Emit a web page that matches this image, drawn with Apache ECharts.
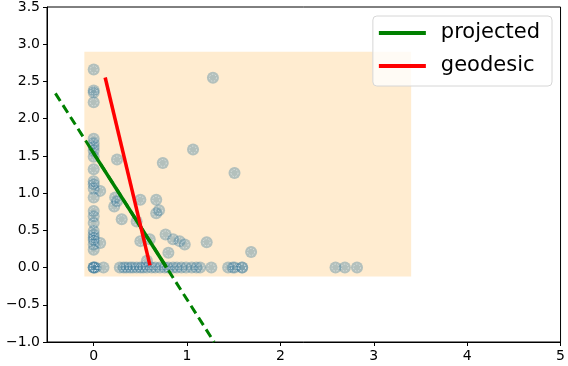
<!DOCTYPE html>
<html>
<head>
<meta charset="utf-8">
<script src="https://cdn.jsdelivr.net/npm/echarts@6/dist/echarts.min.js"></script>
<style>html,body{margin:0;padding:0;background:#fff}#c{width:568px;height:366px}</style>
</head>
<body>
<div id="c"></div>
<script>
// ---- data ----
var pointsX = [0,0,0,0,0,0,0,0,0,0,0,0,0,0,0,0,0,0,0,0,0,0,0,0,0,0,
  0.07,0.07,0.02,0.105,
  0.25,0.23,0.25,0.22,0.30,0.46,
  0.50,0.67,0.70,0.67,0.77,0.85,0.92,0.975,0.50,0.60,1.21,0.80,0.57,0.74,1.064,1.277,1.508,1.686,
  0.28,0.32,0.35,0.39,0.42,0.46,0.50,0.53,0.57,0.62,0.66,0.71,0.76,0.80,0.85,0.89,0.94,0.99,1.05,1.10,1.14,1.26,1.44,1.49,1.51,1.59,1.59,2.59,2.69,2.82];
var pointsY = [2.66,2.38,2.35,2.22,1.73,1.67,1.62,1.57,1.49,1.32,1.16,1.12,1.06,0.94,0.76,0.69,0.60,0.49,0.44,0.40,0.37,0.31,0.24,0,0,0,
  1.03,0.33,0,0,
  1.45,0.94,0.89,0.82,0.65,0.62,
  0.91,0.91,0.77,0.73,0.445,0.38,0.355,0.31,0.355,0.38,0.34,0.20,0.09,1.405,1.585,2.55,1.27,0.21,
  0,0,0,0,0,0,0,0,0,0,0,0,0,0,0,0,0,0,0,0,0,0,0,0,0,0,0,0,0,0];
var regionX = [-0.1, 3.4];
var regionY = [-0.12, 2.9];
var projectedX = [-0.036, 0.78];
var projectedY = [1.604, 0];
var extensionX = [-0.41, 1.29];
var extensionY = [2.34, -1.0];
var geodesicX = [0.123, 0.603];
var geodesicY = [2.553, 0.03];
var xTicks = [0,1,2,3,4,5];
var yTicks = [-1.0,-0.5,0.0,0.5,1.0,1.5,2.0,2.5,3.0,3.5];

function pairs(xs, ys){ return xs.map(function(x,i){ return [x, ys[i]]; }); }
function fmt(v){ return String(v).replace('-', '\u2212'); }

var chart = echarts.init(document.getElementById('c'), null, {renderer:'canvas'});
var font = 'DejaVu Sans';
chart.setOption({
  animation: false,
  textStyle: {fontFamily: font},
  grid: {left: 47, right: 5, top: 6, bottom: 24, show: true, borderColor: '#000', borderWidth: 1, containLabel: false},
  legend: {
    right: 16, top: 16, orient: 'vertical',
    data: ['projected','geodesic'],
    icon: 'rect', itemWidth: 47, itemHeight: 4, itemGap: 9,
    textStyle: {fontSize: 21, lineHeight: 24, color: '#000', fontFamily: font, padding: [0,0,0,10]},
    backgroundColor: 'rgba(255,255,255,0.8)', borderColor: '#d6d6d6', borderWidth: 1, borderRadius: 4,
    padding: [5, 12, 8, 6]
  },
  xAxis: {
    type: 'value', min: -0.5, max: 5,
    splitLine: {show: false},
    axisLine: {show: true, onZero: false, lineStyle: {color: '#000', width: 1}},
    axisTick: {show: true, length: 4, customValues: xTicks, lineStyle: {color: '#000'}},
    axisLabel: {customValues: xTicks, color: '#000', fontSize: 14, margin: 7, formatter: function(v){return fmt(v);}}
  },
  yAxis: {
    type: 'value', min: -1, max: 3.5, interval: 0.5,
    splitLine: {show: false},
    axisLine: {show: true, onZero: false, lineStyle: {color: '#000', width: 1}},
    axisTick: {show: true, length: 4, lineStyle: {color: '#000'}},
    axisLabel: {color: '#000', fontSize: 14, margin: 7, formatter: function(v){return fmt(v.toFixed(1));}}
  },
  series: [
    {
      type: 'scatter', name: 'points', z: 2,
      data: pairs(pointsX, pointsY),
      symbol: 'circle', symbolSize: 12,
      itemStyle: {color: 'rgba(45,113,152,0.45)'},
      markArea: {
        silent: true,
        itemStyle: {color: 'rgba(255,170,40,0.22)'},
        data: [[{coord: [regionX[0], regionY[0]]}, {coord: [regionX[1], regionY[1]]}]]
      }
    },
    {
      type: 'scatter', name: 'pointsRing', z: 3,
      data: pairs(pointsX, pointsY),
      symbol: 'circle', symbolSize: 7,
      itemStyle: {color: 'rgba(0,0,0,0)', borderColor: 'rgba(255,255,255,0.6)', borderWidth: 1, borderType: [1.5,1.5]}
    },
    {
      type: 'line', name: 'projectedExt', z: 4, symbol: 'none',
      data: pairs(extensionX, extensionY),
      lineStyle: {color: '#008000', width: 3, type: [9,5]}
    },
    {
      type: 'line', name: 'projected', z: 5, symbol: 'none',
      data: pairs(projectedX, projectedY),
      itemStyle: {color: '#008000'},
      lineStyle: {color: '#008000', width: 3.5}
    },
    {
      type: 'line', name: 'geodesic', z: 5, symbol: 'none',
      data: pairs(geodesicX, geodesicY),
      itemStyle: {color: '#ff0000'},
      lineStyle: {color: '#ff0000', width: 3.5}
    }
  ]
});
</script>
</body>
</html>
